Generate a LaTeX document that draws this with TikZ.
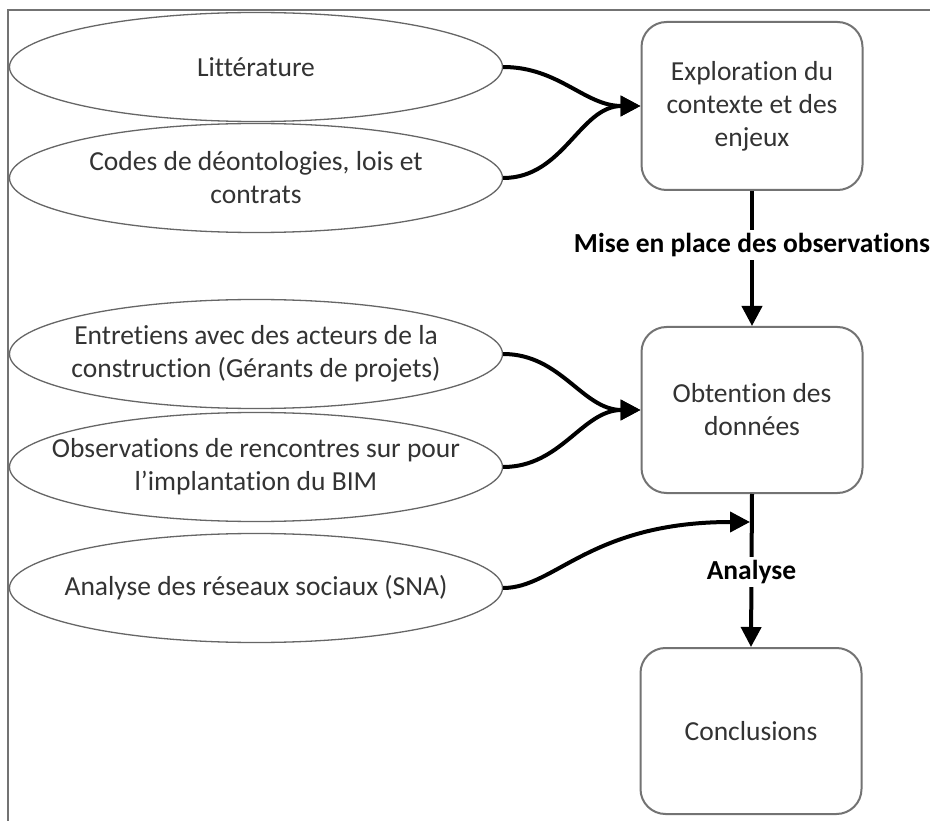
\documentclass[tikz,border=0pt]{standalone}
\usepackage{fontspec}
\setmainfont{Carlito}[Ligatures={NoCommon,NoRequired,NoContextual}]
\usetikzlibrary{shapes.geometric,arrows.meta}
\begin{document}
\begin{tikzpicture}[x=1pt,y=-1pt,
  txt/.style={text=black!80, font=\fontsize{27.5}{33}\selectfont, align=center, inner sep=0pt},
  ell/.style={ellipse, draw=black!60, line width=1.3pt, minimum width=493pt, minimum height=109pt, inner sep=0pt},
  box/.style={txt, rectangle, rounded corners=25pt, draw=black!55, line width=2pt, minimum width=221pt, minimum height=166pt, inner sep=0pt},
  conn/.style={line width=4pt, -{Triangle[length=20pt,width=20pt]}},
  lbl/.style={fill=white, text=black, font=\bfseries\fontsize{27.5}{33}\selectfont, inner sep=3pt}
]
\useasboundingbox (0,0) rectangle (930,821);
\fill[white] (0,0) rectangle (930,821);
\draw[black!55, line width=2pt] (8,821) -- (8,10) -- (930,10);

\node[ell] (lit) at (256,67) {};
\node[txt] (litt) at (lit) {Littérature};
\node[ell] (codes) at (256,178) {};
\node[txt] (codest) at (codes) {Codes de déontologies, lois et\\contrats};
\node[ell] (entr) at (256,354) {};
\node[txt] (entrt) at (entr) {Entretiens avec des acteurs de la\\construction (Gérants de projets)};
\node[ell] (obs) at (256,467) {};
\node[txt] (obst) at (obs) {Observations de rencontres sur pour\\l’implantation du BIM};
\node[ell] (sna) at (256,588) {};
\node[txt] (snat) at (sna) {Analyse des réseaux sociaux (SNA)};

\node[box, minimum height=168pt] (explo) at (752,106) {Exploration du\\contexte et des\\enjeux};
\node[box] (obt) at (752,410) {Obtention des\\données};
\node[box] (concl) at (751,731) {Conclusions};

\draw[conn] (lit.east) to[out=0,in=180] (explo.west);
\draw[conn] (codes.east) to[out=0,in=180] (explo.west);
\draw[conn] (entr.east) to[out=0,in=180] (obt.west);
\draw[conn] (obs.east) to[out=0,in=180] (obt.west);

\draw[conn] (explo.south) -- node[lbl, pos=0.4] {Mise en place des observations} (obt.north);

\coordinate (j) at (750,522);
\draw[conn] (sna.east) to[out=0,in=180,out distance=52pt,in distance=160pt] (j);
\draw[conn] (obt.south) -- node[lbl, pos=0.51] {Analyse} (concl.north);
\end{tikzpicture}
\end{document}
